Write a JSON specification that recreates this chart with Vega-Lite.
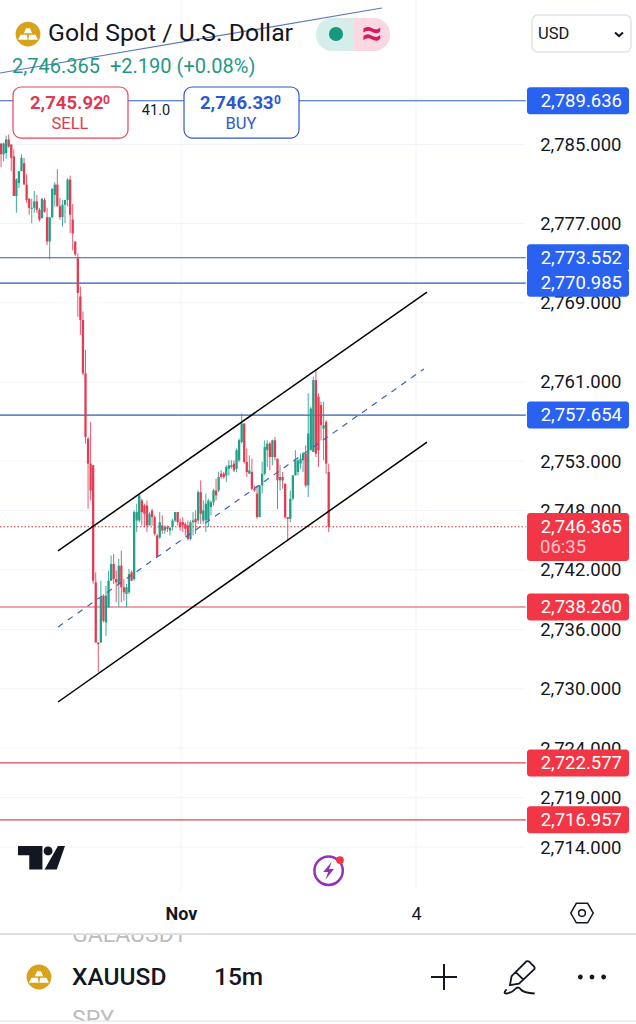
{"$schema":"https://vega.github.io/schema/vega-lite/v6.json","width":636,"height":1024,"autosize":"none","padding":0,"background":"#ffffff",
"data":{"values":[{"role":"interface"}]},
"config":{"view":{"stroke":null},"font":"Roboto","text":{"font":"Roboto"},"axis":{"grid":false,"domain":false,"ticks":false}},
"datasets":{
"ticks":[{"price":2785},{"price":2777},{"price":2769},{"price":2761},{"price":2753},{"price":2748},{"price":2742},{"price":2736},{"price":2730},{"price":2724},{"price":2719},{"price":2714}],
"tags":[{"price":2789.42,"label":"2,789.636","kind":"blue"},{"price":2773.552,"label":"2,773.552","kind":"blue"},{"price":2770.985,"label":"2,770.985","kind":"blue"},{"price":2757.654,"label":"2,757.654","kind":"blue"},{"price":2738.26,"label":"2,738.260","kind":"red"},{"price":2722.5,"label":"2,722.577","kind":"red"},{"price":2716.75,"label":"2,716.957","kind":"red"}],
"candles":[
{"bar":0,"open":2785.1,"high":2785.1,"low":2782.7,"close":2784.0},{"bar":1,"open":2784.0,"high":2785.2,"low":2783.3,"close":2785.1},{"bar":2,"open":2784.15,"high":2785.9,"low":2783.55,"close":2785.5},{"bar":3,"open":2785.5,"high":2786.0,"low":2784.66,"close":2784.8},{"bar":4,"open":2785.0,"high":2785.0,"low":2782.3,"close":2783.65},{"bar":5,"open":2783.8,"high":2784.5,"low":2779.8,"close":2779.8},{"bar":6,"open":2779.8,"high":2781.6,"low":2778.1,"close":2781.45},{"bar":7,"open":2781.1,"high":2782.3,"low":2780.6,"close":2782.3},{"bar":8,"open":2782.3,"high":2784.0,"low":2782.3,"close":2783.65},{"bar":9,"open":2783.1,"high":2783.65,"low":2780.95,"close":2780.95},
{"bar":10,"open":2780.95,"high":2782,"low":2779.1,"close":2779.4},{"bar":11,"open":2779.5,"high":2779.6,"low":2777.9,"close":2778.6},{"bar":12,"open":2778.5,"high":2779.5,"low":2777.05,"close":2778.6},{"bar":13,"open":2778.6,"high":2780.3,"low":2778.1,"close":2779.25},{"bar":14,"open":2779.25,"high":2779.9,"low":2778.1,"close":2778.4},{"bar":15,"open":2778.4,"high":2778.6,"low":2777.2,"close":2777.4},{"bar":16,"open":2777.55,"high":2779.6,"low":2777.55,"close":2779.5},{"bar":17,"open":2779.4,"high":2779.6,"low":2778.1,"close":2778.2},{"bar":18,"open":2777.65,"high":2778.6,"low":2774.85,"close":2775.2},{"bar":19,"open":2775.2,"high":2777.65,"low":2773.4,"close":2777.65},
{"bar":20,"open":2777.65,"high":2780.6,"low":2777.55,"close":2780.5},{"bar":21,"open":2779.9,"high":2781.2,"low":2778.75,"close":2780.95},{"bar":22,"open":2780.95,"high":2782.5,"low":2778.75,"close":2778.75},{"bar":23,"open":2778.75,"high":2779.6,"low":2777.4,"close":2777.65},{"bar":24,"open":2777.65,"high":2779.4,"low":2776.7,"close":2778.9},{"bar":25,"open":2778.9,"high":2779.4,"low":2777.05,"close":2779.4},{"bar":26,"open":2779.4,"high":2781.6,"low":2778.75,"close":2781.45},{"bar":27,"open":2781.45,"high":2781.85,"low":2776.05,"close":2777.9},{"bar":28,"open":2777.4,"high":2779.0,"low":2774.3,"close":2776},{"bar":29,"open":2775.2,"high":2775.2,"low":2773.7,"close":2773.9},
{"bar":30,"open":2773.5,"high":2774,"low":2767.6,"close":2770},{"bar":31,"open":2769.64,"high":2770.65,"low":2765.75,"close":2767.27},{"bar":32,"open":2767.27,"high":2768.12,"low":2761.7,"close":2761.87},{"bar":33,"open":2761.87,"high":2764.23,"low":2754.77,"close":2755.45},{"bar":34,"open":2755.28,"high":2755.45,"low":2748.18,"close":2752.75},{"bar":35,"open":2752.75,"high":2756.97,"low":2749.03,"close":2750.04},{"bar":36,"open":2752.58,"high":2752.58,"low":2740.6,"close":2740.92},{"bar":37,"open":2740.75,"high":2741.77,"low":2734.67,"close":2734.67},{"bar":38,"open":2734.67,"high":2734.67,"low":2731.63,"close":2734.5},{"bar":39,"open":2734.67,"high":2740.92,"low":2734.67,"close":2739.23},
{"bar":40,"open":2739.4,"high":2739.55,"low":2736.7,"close":2736.87},{"bar":41,"open":2736.7,"high":2740.4,"low":2735.35,"close":2739.4},{"bar":42,"open":2738.22,"high":2741.93,"low":2738.22,"close":2740.92},{"bar":43,"open":2740.92,"high":2743.46,"low":2740.92,"close":2742.61},{"bar":44,"open":2742.61,"high":2743.62,"low":2740.58,"close":2741.09},{"bar":45,"open":2741.09,"high":2741.93,"low":2738.73,"close":2740.75},{"bar":46,"open":2740.58,"high":2743.12,"low":2738.29,"close":2742.44},{"bar":47,"open":2742.44,"high":2743.96,"low":2738.73,"close":2740.25},{"bar":48,"open":2740.25,"high":2741.09,"low":2738.9,"close":2739.74},{"bar":49,"open":2739.57,"high":2740.58,"low":2738.22,"close":2740.25},
{"bar":50,"open":2739.74,"high":2742.1,"low":2739.57,"close":2741.6},{"bar":51,"open":2741.77,"high":2741.93,"low":2740.92,"close":2740.92},{"bar":52,"open":2741.09,"high":2748.02,"low":2740.92,"close":2747.85},{"bar":53,"open":2747,"high":2748.7,"low":2745.82,"close":2747.85},{"bar":54,"open":2747,"high":2749.7,"low":2746.83,"close":2749.54},{"bar":55,"open":2749.03,"high":2749.2,"low":2746.5,"close":2747.85},{"bar":56,"open":2748.52,"high":2748.7,"low":2746.33,"close":2747.68},{"bar":57,"open":2748.52,"high":2749.03,"low":2745.82,"close":2746.5},{"bar":58,"open":2746.5,"high":2747.85,"low":2746.5,"close":2747.68},{"bar":59,"open":2748,"high":2748.18,"low":2746.5,"close":2747.34},
{"bar":60,"open":2747.34,"high":2747.51,"low":2745.48,"close":2745.65},{"bar":61,"open":2745.48,"high":2745.65,"low":2743.35,"close":2743.35},{"bar":62,"open":2745.31,"high":2747.85,"low":2745.14,"close":2746.83},{"bar":63,"open":2746.5,"high":2747.51,"low":2745.65,"close":2745.99},{"bar":64,"open":2745.99,"high":2746.5,"low":2745.65,"close":2746.33},{"bar":65,"open":2746.33,"high":2746.5,"low":2745.82,"close":2746.16},{"bar":66,"open":2745.99,"high":2746.33,"low":2745.48,"close":2746.27},{"bar":67,"open":2746.33,"high":2747.17,"low":2745.99,"close":2747},{"bar":68,"open":2747,"high":2747.85,"low":2746.83,"close":2747.85},{"bar":69,"open":2747.85,"high":2747.85,"low":2746.5,"close":2746.83},
{"bar":70,"open":2746.83,"high":2747.17,"low":2745.99,"close":2746.33},{"bar":71,"open":2746.83,"high":2747.34,"low":2745.82,"close":2746.5},{"bar":72,"open":2746.66,"high":2746.83,"low":2745.48,"close":2746.16},{"bar":73,"open":2746.5,"high":2747,"low":2744.98,"close":2745.14},{"bar":74,"open":2745.14,"high":2747,"low":2744.98,"close":2746.83},{"bar":75,"open":2746.83,"high":2747.85,"low":2745.48,"close":2747},{"bar":76,"open":2747.17,"high":2748.02,"low":2745.65,"close":2746.83},{"bar":77,"open":2747,"high":2750.04,"low":2746.66,"close":2749.87},{"bar":78,"open":2749.87,"high":2751.06,"low":2746.66,"close":2747.68},{"bar":79,"open":2747,"high":2749.03,"low":2746.66,"close":2748.02},
{"bar":80,"open":2747,"high":2749.7,"low":2745.82,"close":2748.7},{"bar":81,"open":2747,"high":2749.2,"low":2746.33,"close":2749.03},{"bar":82,"open":2748.36,"high":2749.03,"low":2747.51,"close":2748.86},{"bar":83,"open":2748.86,"high":2750.21,"low":2748.52,"close":2750.04},{"bar":84,"open":2750.04,"high":2751.23,"low":2749.03,"close":2749.54},{"bar":85,"open":2750.04,"high":2751.9,"low":2749.88,"close":2751.4},{"bar":86,"open":2751.73,"high":2752.07,"low":2751.23,"close":2751.4},{"bar":87,"open":2751.73,"high":2751.9,"low":2751.23,"close":2751.4},{"bar":88,"open":2751.56,"high":2752.58,"low":2750.89,"close":2752.41},{"bar":89,"open":2752.24,"high":2753.08,"low":2751.56,"close":2752.58},
{"bar":90,"open":2752.41,"high":2753.08,"low":2752.24,"close":2752.58},{"bar":91,"open":2752.75,"high":2753.08,"low":2751.9,"close":2752.07},{"bar":92,"open":2752.24,"high":2754.27,"low":2751.9,"close":2754.1},{"bar":93,"open":2753.08,"high":2755.28,"low":2752.92,"close":2755.11},{"bar":94,"open":2754.94,"high":2757.81,"low":2754.77,"close":2756.8},{"bar":95,"open":2756.8,"high":2756.8,"low":2752.75,"close":2752.92},{"bar":96,"open":2752.92,"high":2754.27,"low":2751.4,"close":2751.9},{"bar":97,"open":2751.73,"high":2753.59,"low":2751.73,"close":2752.07},{"bar":98,"open":2751.9,"high":2753.25,"low":2750.04,"close":2750.21},{"bar":99,"open":2750.21,"high":2750.55,"low":2749.88,"close":2750.04},
{"bar":100,"open":2749.71,"high":2750.55,"low":2747.17,"close":2747.34},{"bar":101,"open":2747.34,"high":2750.55,"low":2747.34,"close":2750.55},{"bar":102,"open":2750.55,"high":2752.92,"low":2749.71,"close":2751.73},{"bar":103,"open":2751.73,"high":2755.11,"low":2751.56,"close":2754.44},{"bar":104,"open":2754.1,"high":2755.11,"low":2752.41,"close":2754.77},{"bar":105,"open":2754.77,"high":2754.94,"low":2752.07,"close":2753.42},{"bar":106,"open":2753.42,"high":2755.18,"low":2752.58,"close":2755.11},{"bar":107,"open":2755.11,"high":2755.45,"low":2753.08,"close":2753.42},{"bar":108,"open":2753.25,"high":2753.25,"low":2748.19,"close":2751.06},{"bar":109,"open":2751.06,"high":2752.58,"low":2750.04,"close":2751.4},
{"bar":110,"open":2751.4,"high":2751.9,"low":2750.21,"close":2751.06},{"bar":111,"open":2750.72,"high":2750.72,"low":2747.17,"close":2747.34},{"bar":112,"open":2747.34,"high":2747.34,"low":2744.98,"close":2747.17},{"bar":113,"open":2747.17,"high":2750.04,"low":2746.83,"close":2749.2},{"bar":114,"open":2749.2,"high":2751.56,"low":2749.03,"close":2751.56},{"bar":115,"open":2751.56,"high":2754.1,"low":2751.56,"close":2753.08},{"bar":116,"open":2751.9,"high":2753.25,"low":2751.56,"close":2753.08},{"bar":117,"open":2752.75,"high":2753.76,"low":2752.24,"close":2753.25},{"bar":118,"open":2753.08,"high":2753.93,"low":2751.9,"close":2753.76},{"bar":119,"open":2753.76,"high":2754.6,"low":2750.38,"close":2750.55},
{"bar":120,"open":2750.55,"high":2759.84,"low":2749.37,"close":2755.79},{"bar":121,"open":2754.1,"high":2758.49,"low":2754.1,"close":2758.32},{"bar":122,"open":2753.93,"high":2761.53,"low":2753.93,"close":2761.19},{"bar":123,"open":2761.19,"high":2762.27,"low":2753.42,"close":2753.76},{"bar":124,"open":2759.5,"high":2759.84,"low":2752.41,"close":2754.1},{"bar":125,"open":2758.66,"high":2759,"low":2755.11,"close":2756.63},{"bar":126,"open":2756.29,"high":2759,"low":2753.08,"close":2756.63},{"bar":127,"open":2756.97,"high":2757.14,"low":2751.73,"close":2752.75},{"bar":128,"open":2751.9,"high":2752.75,"low":2745.82,"close":2746.365}
]},
"layer":[
{"data":{"name":"ticks"},"mark":{"type":"rule","color":"#f0f3fa","strokeWidth":1},
"encoding":{"y":{"field":"price","type":"quantitative","scale":{"domain":[2696.12,2799.6],"nice":false,"zero":false},"axis":{"title":null,"orient":"left","offset":-621,"values":[2785,2777,2769,2761,2753,2748,2742,2736,2730,2724,2719,2714],"format":",.3f","labelFontSize":18.5,"labelColor":"#131722","labelPadding":0,"tickSize":0,"labelOverlap":false,"labelFlush":false,"labelBound":false,"labelFont":"Roboto"}},
"x":{"datum":-0.4,"scale":{"domain":[-0.4,248.04],"nice":false,"zero":false,"padding":0},"axis":{"title":null,"orient":"bottom","offset":-120,"values":[70.3,162.1],"labelExpr":"datum.value<100?'Nov':'4'","labelFontSize":18,"labelFontWeight":{"expr":"datum.value<100?'bold':'normal'"},"labelColor":"#131722","labelPadding":1,"tickSize":0,"labelOverlap":false,"labelFlush":false,"labelBound":false,"labelFont":"Roboto"}},
"x2":{"datum":204.7}}},
{"data":{"values":[{"bar":70.3},{"bar":162.1}]},"mark":{"type":"rule","color":"#f0f3fa","strokeWidth":1},"encoding":{"x":{"field":"bar","type":"quantitative"},"y":{"datum":2799.6},"y2":{"datum":2709.66}}},
{"data":{"name":"tags"},"transform":[{"filter":"datum.kind=='blue'"}],"mark":{"type":"rule","color":"#2f5bc0","strokeWidth":1.2},"encoding":{"y":{"field":"price","type":"quantitative"},"x":{"datum":-0.4},"x2":{"datum":205}}},
{"data":{"name":"tags"},"transform":[{"filter":"datum.kind=='red'"}],"mark":{"type":"rule","color":"#d9485f","strokeWidth":1.2},"encoding":{"y":{"field":"price","type":"quantitative"},"x":{"datum":-0.4},"x2":{"datum":205}}},
{"data":{"values":[{"price":2746.365}]},"mark":{"type":"rule","color":"#c9303f","strokeWidth":1,"strokeDash":[1.5,2]},"encoding":{"y":{"field":"price","type":"quantitative"},"x":{"datum":-0.4},"x2":{"datum":205}}},
{"data":{"name":"candles"},"mark":{"type":"rule","strokeWidth":1,"opacity":0.85},"encoding":{"x":{"field":"bar","type":"quantitative"},"y":{"field":"high","type":"quantitative"},"y2":{"field":"low"},"color":{"condition":{"test":"datum.close>=datum.open","value":"#1fa088"},"value":"#e23b52"}}},
{"data":{"name":"candles"},"mark":{"type":"bar","width":2.3},"encoding":{"x":{"field":"bar","type":"quantitative"},"y":{"field":"open","type":"quantitative"},"y2":{"field":"close"},"color":{"condition":{"test":"datum.close>=datum.open","value":"#1fa088"},"value":"#e23b52"}}},
{"data":{"values":[{"x0":22.26,"p0":2743.92,"x1":166.4,"p1":2770.09},{"x0":22.26,"p0":2728.66,"x1":166.4,"p1":2754.93}]},"mark":{"type":"rule","color":"#000000","strokeWidth":1.5},"encoding":{"x":{"field":"x0","type":"quantitative"},"y":{"field":"p0","type":"quantitative"},"x2":{"field":"x1"},"y2":{"field":"p1"}}},
{"data":{"values":[{"x0":22.26,"p0":2736.24,"x1":165.2,"p1":2762.31}]},"mark":{"type":"rule","color":"#3f62b8","strokeWidth":1.2,"strokeDash":[6,6]},"encoding":{"x":{"field":"x0","type":"quantitative"},"y":{"field":"p0","type":"quantitative"},"x2":{"field":"x1"},"y2":{"field":"p1"}}},
{"data":{"values":[{"x0":-0.4,"p0":2792.22,"x1":148.8,"p1":2798.79}]},"mark":{"type":"rule","color":"#5a78c0","strokeWidth":1.2},"encoding":{"x":{"field":"x0","type":"quantitative"},"y":{"field":"p0","type":"quantitative"},"x2":{"field":"x1"},"y2":{"field":"p1"}}},
{"data":{"name":"tags"},"mark":{"type":"rect","width":102,"height":27,"cornerRadius":3},"encoding":{"x":{"datum":225.38},"y":{"field":"price","type":"quantitative"},"color":{"condition":{"test":"datum.kind=='blue'","value":"#2962f0"},"value":"#f23645"}}},
{"data":{"values":[{"price":2746.365}]},"mark":{"type":"rect","cornerRadius":3,"color":"#f23645"},"encoding":{"x":{"datum":205.46},"x2":{"datum":245.3},"y":{"datum":2747.76},"y2":{"datum":2742.9}}},
{"data":{"name":"tags"},"mark":{"type":"text","align":"right","baseline":"middle","fontSize":18.5,"color":"#ffffff"},"encoding":{"x":{"datum":242.57},"y":{"field":"price","type":"quantitative"},"text":{"field":"label"}}},
{"data":{"values":[{"price":2746.365,"label":"2,746.365"}]},"mark":{"type":"text","align":"right","baseline":"middle","fontSize":18.5,"color":"#ffffff"},"encoding":{"x":{"datum":242.57},"y":{"field":"price","type":"quantitative"},"text":{"field":"label"}}},
{"mark":{"type":"text","align":"left","baseline":"middle","fontSize":18.5,"color":"#fbc4cb","text":"06:35"},"encoding":{"x":{"datum":210.54},"y":{"datum":2744.32}}},
{"mark":{"type":"rect","fill":"#ffffff","stroke":"#e0475b","strokeWidth":1.2,"cornerRadius":8},"encoding":{"x":{"datum":4.68},"x2":{"datum":49.6},"y":{"datum":2790.81},"y2":{"datum":2785.65}}},
{"mark":{"type":"rect","fill":"#ffffff","stroke":"#2d57d1","strokeWidth":1.2,"cornerRadius":8},"encoding":{"x":{"datum":71.48},"x2":{"datum":116.4},"y":{"datum":2790.81},"y2":{"datum":2785.65}}},
{"mark":{"type":"text","align":"center","baseline":"middle","fontSize":14.5,"color":"#131722","text":"41.0"},"encoding":{"x":{"datum":60.54},"y":{"datum":2788.38}}},
{"mark":{"type":"text","align":"left","baseline":"middle","fontSize":18.5,"fontWeight":"bold","color":"#e0394f","text":"2,745.92"},"encoding":{"x":{"datum":11.32},"y":{"datum":2789.19}}},
{"mark":{"type":"text","align":"left","baseline":"middle","fontSize":12,"fontWeight":"bold","color":"#e0394f","text":"0"},"encoding":{"x":{"datum":39.83},"y":{"datum":2789.49}}},
{"mark":{"type":"text","align":"center","baseline":"middle","fontSize":16.5,"color":"#e0394f","text":"SELL"},"encoding":{"x":{"datum":26.94},"y":{"datum":2787.07}}},
{"mark":{"type":"text","align":"left","baseline":"middle","fontSize":18.5,"fontWeight":"bold","color":"#2d57d1","text":"2,746.33"},"encoding":{"x":{"datum":77.73},"y":{"datum":2789.19}}},
{"mark":{"type":"text","align":"left","baseline":"middle","fontSize":12,"fontWeight":"bold","color":"#2d57d1","text":"0"},"encoding":{"x":{"datum":106.6},"y":{"datum":2789.49}}},
{"mark":{"type":"text","align":"center","baseline":"middle","fontSize":16.5,"color":"#2d57d1","text":"BUY"},"encoding":{"x":{"datum":93.74},"y":{"datum":2787.07}}},
{"mark":{"type":"text","align":"left","baseline":"middle","fontSize":24.8,"color":"#131722","text":"Gold Spot / U.S. Dollar"},"encoding":{"x":{"datum":18.35},"y":{"datum":2796.17}}},
{"mark":{"type":"text","align":"left","baseline":"middle","fontSize":20,"color":"#1f9983","text":"2,746.365"},"encoding":{"x":{"datum":4.29},"y":{"datum":2792.83}}},
{"mark":{"type":"text","align":"left","baseline":"middle","fontSize":20,"color":"#1f9983","text":"+2.190 (+0.08%)"},"encoding":{"x":{"datum":42.57},"y":{"datum":2792.83}}},
{"mark":{"type":"point","filled":true,"size":616,"color":"#d8a21c","opacity":1},"encoding":{"x":{"datum":10.54},"y":{"datum":2796.16}}},
{"mark":{"type":"point","filled":true,"size":1100,"color":"#ffffff","opacity":1,"shape":"M-.25,-.05 L-.12,-.35 L.12,-.35 L.25,-.05Z M-.6,.35 L-.45,.05 L-.07,.05 L-.02,.35Z M.02,.35 L.07,.05 L.45,.05 L.6,.35Z"},"encoding":{"x":{"datum":10.54},"y":{"datum":2796.16}}},
{"mark":{"type":"rect","fill":"#d5eee9","cornerRadiusTopLeft":16,"cornerRadiusBottomLeft":16},"encoding":{"x":{"datum":123.04},"x2":{"datum":137.88},"y":{"datum":2797.78},"y2":{"datum":2794.45}}},
{"mark":{"type":"rect","fill":"#fbd7e1","cornerRadiusTopRight":16,"cornerRadiusBottomRight":16},"encoding":{"x":{"datum":137.88},"x2":{"datum":151.95},"y":{"datum":2797.78},"y2":{"datum":2794.45}}},
{"mark":{"type":"point","filled":true,"size":200,"color":"#14997f","opacity":1},"encoding":{"x":{"datum":130.85},"y":{"datum":2796.16}}},
{"mark":{"type":"text","align":"center","baseline":"middle","fontSize":36,"fontWeight":"bold","color":"#d81b60","text":"≈"},"encoding":{"x":{"datum":144.91},"y":{"datum":2796.16}}},
{"mark":{"type":"rect","fill":"#ffffff","stroke":"#e0e3eb","strokeWidth":1.5,"cornerRadius":6},"encoding":{"x":{"datum":207.4},"x2":{"datum":246.09},"y":{"datum":2798.08},"y2":{"datum":2794.35}}},
{"mark":{"type":"text","align":"left","baseline":"middle","fontSize":16.5,"color":"#131722","text":"USD"},"encoding":{"x":{"datum":209.76},"y":{"datum":2796.17}}},
{"mark":{"type":"point","filled":false,"size":64,"stroke":"#131722","strokeWidth":2,"opacity":1,"shape":"M-1,-.4 L0,.5 L1,-.4"},"encoding":{"x":{"datum":241.4},"y":{"datum":2796.16}}},
{"mark":{"type":"point","filled":true,"size":2209,"color":"#131722","opacity":1,"shape":"M-1,-.49 L.04,-.49 L.04,.51 L-.52,.51 L-.52,-.1 L-1,-.1 Z M.09,-.28 a.19,.19 0 1,0 .38,0 a.19,.19 0 1,0 -.38,0 Z M.7,-.49 L1,-.49 L.65,.51 L.13,.51 Z"},"encoding":{"x":{"datum":15.81},"y":{"datum":2712.94}}},
{"mark":{"type":"point","filled":false,"size":804,"stroke":"#9233b5","strokeWidth":2.5,"opacity":1},"encoding":{"x":{"datum":127.96},"y":{"datum":2711.61}}},
{"mark":{"type":"point","filled":true,"size":324,"color":"#9233b5","opacity":1,"shape":"M.35,-1 L-.6,.15 L-.05,.15 L-.35,1 L.6,-.2 L.05,-.2 Z"},"encoding":{"x":{"datum":127.96},"y":{"datum":2711.61}}},
{"mark":{"type":"point","filled":true,"size":60,"color":"#f23645","opacity":1},"encoding":{"x":{"datum":132.41},"y":{"datum":2712.69}}},
{"mark":{"type":"point","filled":false,"size":506,"stroke":"#131722","strokeWidth":1.5,"opacity":1,"shape":"M-1,0 L-.5,-.87 L.5,-.87 L1,0 L.5,.87 L-.5,.87Z M.3,0 a.3,.3 0 1,1 -.6,0 a.3,.3 0 1,1 .6,0Z"},"encoding":{"x":{"datum":226.94},"y":{"datum":2707.33}}},
{"mark":{"type":"text","align":"left","baseline":"alphabetic","fontSize":23,"color":"#bdbdbd","text":"GALAUSDT"},"encoding":{"x":{"datum":27.73},"y":{"datum":2704.4}}},
{"mark":{"type":"rect","fill":"#ffffff"},"encoding":{"x":{"datum":23},"x2":{"datum":80},"y":{"datum":2706.3},"y2":{"datum":2705.21}}},
{"mark":{"type":"rule","color":"#e0e0e0","strokeWidth":2},"encoding":{"x":{"datum":-0.4},"x2":{"datum":248.04},"y":{"datum":2705.21}}},
{"mark":{"type":"point","filled":true,"size":616,"color":"#d8a21c","opacity":1},"encoding":{"x":{"datum":14.83},"y":{"datum":2700.87}}},
{"mark":{"type":"point","filled":true,"size":1100,"color":"#ffffff","opacity":1,"shape":"M-.25,-.05 L-.12,-.35 L.12,-.35 L.25,-.05Z M-.6,.35 L-.45,.05 L-.07,.05 L-.02,.35Z M.02,.35 L.07,.05 L.45,.05 L.6,.35Z"},"encoding":{"x":{"datum":14.83},"y":{"datum":2700.87}}},
{"mark":{"type":"text","align":"left","baseline":"middle","fontSize":24.5,"fontWeight":500,"color":"#131722","text":"XAUUSD"},"encoding":{"x":{"datum":27.73},"y":{"datum":2700.77}}},
{"mark":{"type":"text","align":"left","baseline":"middle","fontSize":24.5,"fontWeight":500,"color":"#131722","text":"15m"},"encoding":{"x":{"datum":83.19},"y":{"datum":2700.77}}},
{"mark":{"type":"point","filled":false,"size":676,"stroke":"#131722","strokeWidth":2,"opacity":1,"shape":"M-1,0 L1,0 M0,-1 L0,1"},"encoding":{"x":{"datum":173.04},"y":{"datum":2700.87}}},
{"mark":{"type":"point","filled":false,"size":1089,"stroke":"#131722","strokeWidth":1.8,"opacity":1,"shape":"M-.55,.5 L-.45,-.05 L.45,-.95 Q.55,-1 .65,-.9 L.9,-.65 Q1,-.55 .9,-.45 L0,.4 Z M-.2,-.3 L.25,.15 M-.75,.75 Q-1,1 -.75,1 Q-.4,.95 -.2,.7 Q0,.55 .1,.75 Q.25,.95 .95,1"},"encoding":{"x":{"datum":202.34},"y":{"datum":2700.87}}},
{"mark":{"type":"point","filled":true,"size":784,"color":"#131722","opacity":1,"shape":"M-1,0 a.17,.17 0 1,0 .34,0 a.17,.17 0 1,0 -.34,0 Z M-.17,0 a.17,.17 0 1,0 .34,0 a.17,.17 0 1,0 -.34,0 Z M.66,0 a.17,.17 0 1,0 .34,0 a.17,.17 0 1,0 -.34,0 Z"},"encoding":{"x":{"datum":230.85},"y":{"datum":2700.87}}},
{"mark":{"type":"text","align":"left","baseline":"alphabetic","fontSize":23,"color":"#bdbdbd","text":"SPY"},"encoding":{"x":{"datum":27.73},"y":{"datum":2695.8}}},
{"mark":{"type":"rect","fill":"#ffffff"},"encoding":{"x":{"datum":23},"x2":{"datum":68},"y":{"datum":2696.42},"y2":{"datum":2695.9}}},
{"mark":{"type":"rule","color":"#e0e0e0","strokeWidth":1},"encoding":{"x":{"datum":-0.4},"x2":{"datum":248.04},"y":{"datum":2696.42}}}
]}
